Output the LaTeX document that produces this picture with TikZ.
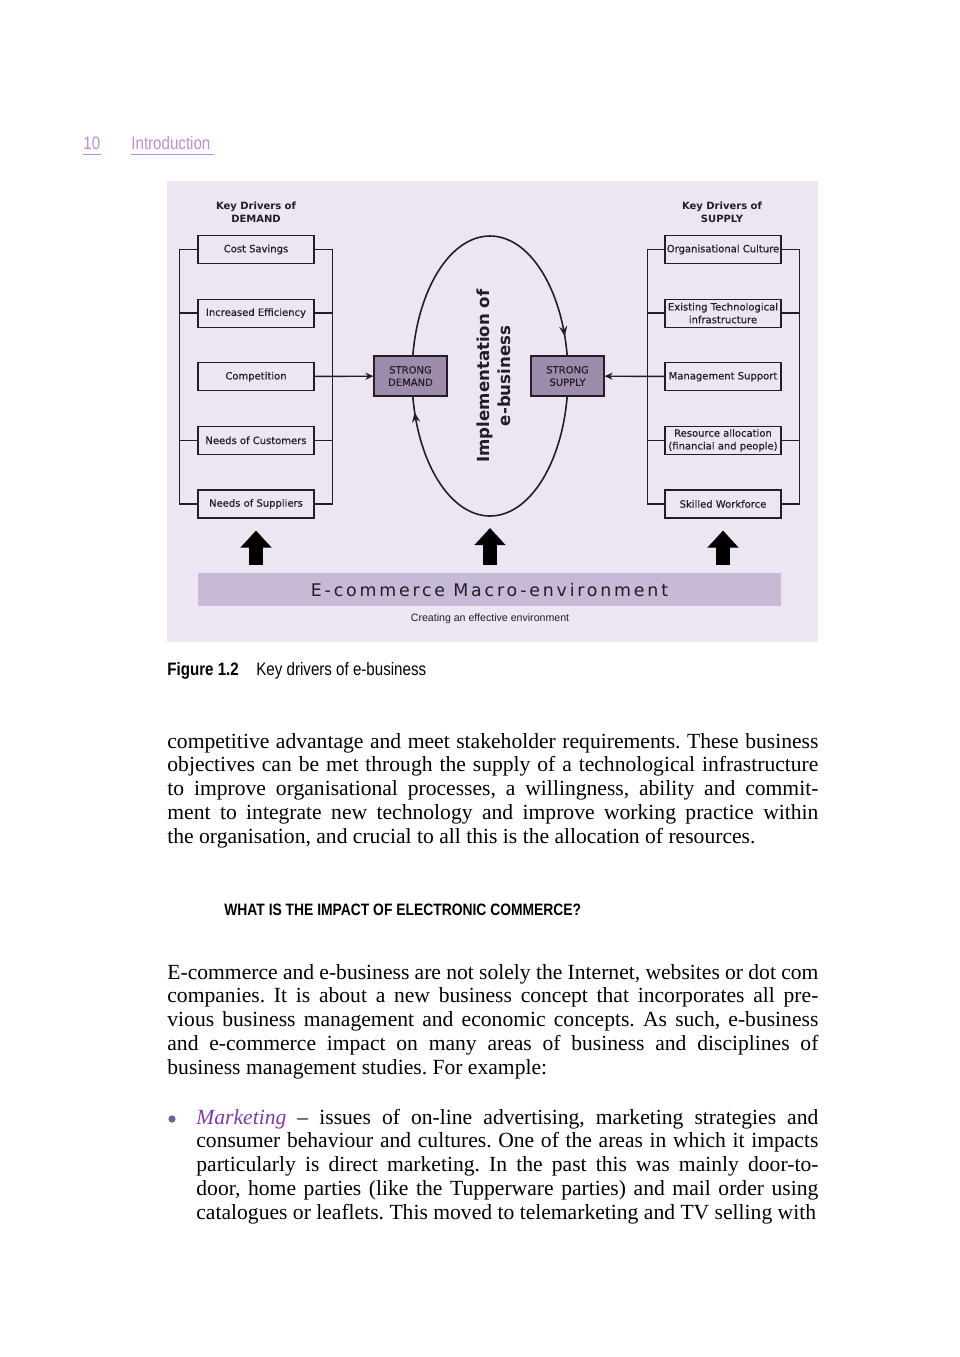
\documentclass[tikz,border=0pt]{standalone}
\usepackage{fontspec}
\setmainfont{Liberation Serif}
\newfontfamily\diagfont{DejaVu Sans}
\newfontfamily\boxfont[FakeBold=0.5]{DejaVu Sans}
\newfontfamily\narrowfont{Liberation Sans}
\newfontfamily\condfont[FakeStretch=0.84]{Liberation Sans}
\newfontfamily\trackfont[LetterSpace=16]{DejaVu Sans}
\usepackage{xcolor}
\usetikzlibrary{arrows.meta,positioning,calc,decorations.markings}
\frenchspacing

\definecolor{pagepurple}{RGB}{192,140,216}
\definecolor{figback}{RGB}{237,229,242}
\definecolor{strongfill}{RGB}{158,140,172}
\definecolor{barfill}{RGB}{199,186,214}
\definecolor{inkgrey}{RGB}{34,30,38}
\definecolor{markpurple}{RGB}{128,58,168}
\definecolor{dotpurple}{RGB}{118,92,150}

\begin{document}
\begin{tikzpicture}[x=0.5pt, y=-0.5pt,
    >={Stealth[length=4pt,width=3.6pt]},
    driver/.style={draw=inkgrey, line width=0.6pt, minimum width=58pt, minimum height=14pt,
                   inner sep=0pt, align=center, text=inkgrey,
                   font=\boxfont\fontsize{5}{6.4}\selectfont},
    strong/.style={draw=inkgrey, line width=0.6pt, fill=strongfill, minimum width=36.5pt,
                   minimum height=20pt, inner sep=0pt, align=center, text=inkgrey,
                   font=\boxfont\fontsize{5}{6.2}\selectfont},
    keyhead/.style={align=center, inner sep=0pt, text=inkgrey,
                    font=\diagfont\bfseries\fontsize{5}{6.5}\selectfont},
    bracket/.style={draw=inkgrey, line width=0.7pt},
    link/.style={draw=inkgrey, line width=0.7pt, ->},
    push/.style={line width=7pt, -{Triangle[length=8.5pt,width=15pt]}},
    bodytext/.style={anchor=base west, inner sep=0pt, align=justify,
                     font=\fontsize{10.8}{11.875}\selectfont},
  ]
    \useasboundingbox (0,0) rectangle (960,1357);
    \fill[white] (0,0) rectangle (960,1357);

    % --- running head ---
    \node[anchor=base west, inner sep=0pt, text=pagepurple,
          font=\condfont\fontsize{9}{10}\selectfont] (pgnum) at (83,149) {10};
    \node[anchor=base west, inner sep=0pt, text=pagepurple,
          font=\condfont\fontsize{9}{10}\selectfont] (runhead) at (131,149) {Introduction};
    \draw[pagepurple, line width=0.5pt] ($(pgnum.base west)+(0,5)$) -- ($(pgnum.base east)+(0,5)$);
    \draw[pagepurple, line width=0.5pt] ($(runhead.base west)+(0,5)$) -- ($(runhead.base east)+(3,5)$);

    % --- figure panel ---
    \fill[figback] (167,181) rectangle (818,642);

    \node[keyhead] (demhead) at (256,212.5) {Key Drivers of\\DEMAND};
    \node[keyhead] (suphead) at (722,212.5) {Key Drivers of\\SUPPLY};

    % demand drivers
    \node[driver] (costsav) at (256,249.5) {Cost Savings};
    \node[driver, below=17.2pt of costsav] (effic) {Increased Efficiency};
    \node[driver, below=17.2pt of effic] (compet) {Competition};
    \node[driver, below=17.2pt of compet] (custneeds) {Needs of Customers};
    \node[driver, below=17.2pt of custneeds] (suppneeds) {Needs of Suppliers};

    % supply drivers
    \node[driver] (orgcult) at (723,249.5) {Organisational Culture};
    \node[driver, below=17.2pt of orgcult] (techinfra) {Existing Technological\\infrastructure};
    \node[driver, below=17.2pt of techinfra] (mgmtsupp) {Management Support};
    \node[driver, below=17.2pt of mgmtsupp] (resalloc) {Resource allocation\\(financial and people)};
    \node[driver, below=17.2pt of resalloc] (skilled) {Skilled Workforce};

    % brackets
    \draw[bracket] (costsav.west) -- ++(-18,0) |- (suppneeds.west);
    \draw[bracket] (costsav.east) -- ++(18,0) |- (suppneeds.east);
    \foreach \b in {effic,custneeds} {
      \draw[bracket] (\b.west) -- ++(-18,0);
      \draw[bracket] (\b.east) -- ++(18,0);
    }
    \draw[bracket] (orgcult.west) -- ++(-17,0) |- (skilled.west);
    \draw[bracket] (orgcult.east) -- ++(18,0) |- (skilled.east);
    \foreach \b in {techinfra,resalloc} {
      \draw[bracket] (\b.west) -- ++(-17,0);
      \draw[bracket] (\b.east) -- ++(18,0);
    }

    % implementation cycle
    \coordinate (loopc) at (490,376);
    \coordinate (loopbot) at (490,516);
    \draw[inkgrey, line width=0.8pt, postaction={decorate},
          decoration={markings,
            mark=at position 0.448 with {\arrow{Stealth[length=5pt,width=4pt]}},
            mark=at position 0.943 with {\arrow{Stealth[length=5pt,width=4pt]}}}]
      (loopc) ellipse [x radius=78, y radius=140];
    \node[rotate=90, align=center, inner sep=0pt, text=inkgrey,
          font=\diagfont\bfseries\fontsize{8.3}{10.5}\selectfont] (impl) at (494,376)
      {Implementation of\\e-business};

    \node[strong] (demand) at (410.5,376) {STRONG\\DEMAND};
    \node[strong] (supply) at (567.5,376) {STRONG\\SUPPLY};

    \draw[link] (compet) -- (demand);
    \draw[link] (mgmtsupp) -- (supply);

    % --- macro-environment ---
    \node[fill=barfill, minimum width=291.5pt, minimum height=16.5pt, inner sep=0pt,
          text=inkgrey, font=\trackfont\fontsize{8.7}{10}\selectfont] (macro) at (489.5,589.5)
      {E-commerce Macro-environment};
    \node[inner sep=0pt, text=inkgrey, font=\narrowfont\fontsize{5.3}{6}\selectfont]
      (creating) at (490,619) {Creating an effective environment};

    \draw[push] ($(macro.north -| suppneeds)+(0,-8)$) -- ($(suppneeds.south)+(0,12)$);
    \draw[push] ($(macro.north -| loopbot)+(0,-8)$) -- ($(loopbot)+(0,12)$);
    \draw[push] ($(macro.north -| skilled)+(0,-8)$) -- ($(skilled.south)+(0,12)$);

    % --- caption ---
    \node[anchor=base west, inner sep=0pt,
          font=\condfont\bfseries\fontsize{9}{10}\selectfont] (figlabel) at (167,675) {Figure 1.2};
    \node[anchor=base west, inner sep=0pt,
          font=\condfont\fontsize{9}{10}\selectfont] (figtitle) at (256,675) {Key drivers of e-business};

    % --- body text ---
    \node[bodytext, text width=325.5pt] (paraone) at (167,748)
      {competitive advantage and meet stakeholder requirements. These business\linebreak
       objectives can be met through the supply of a technological infrastructure\linebreak
       to improve organisational processes, a willingness, ability and commit-\linebreak
       ment to integrate new technology and improve working practice within\linebreak
       the organisation, and crucial to all this is the allocation of resources.};

    \node[anchor=base west, inner sep=0pt,
          font=\condfont\bfseries\fontsize{8.25}{10}\selectfont] (impacthead) at (224,915)
      {WHAT IS THE IMPACT OF ELECTRONIC COMMERCE?};

    \node[bodytext, text width=325.5pt] (paratwo) at (167,979)
      {E-commerce and e-business are not solely the Internet, websites or dot com\linebreak
       companies. It is about a new business concept that incorporates all pre-\linebreak
       vious business management and economic concepts. As such, e-business\linebreak
       and e-commerce impact on many areas of business and disciplines of\linebreak
       business management studies. For example:};

    \node[circle, fill=dotpurple, inner sep=0pt, minimum size=3.6pt] (dot) at (172,1119) {};
    \node[bodytext, text width=311pt] (bullet) at (196,1124)
      {\parfillskip=0pt \textcolor{markpurple}{\textit{Marketing}} -- issues of on-line advertising, marketing strategies and\linebreak
       consumer behaviour and cultures. One of the areas in which it impacts\linebreak
       particularly is direct marketing. In the past this was mainly door-to-\linebreak
       door, home parties (like the Tupperware parties) and mail order using\linebreak
       catalogues or leaflets. This moved to telemarketing and TV selling with};
  \end{tikzpicture}
\end{document}
